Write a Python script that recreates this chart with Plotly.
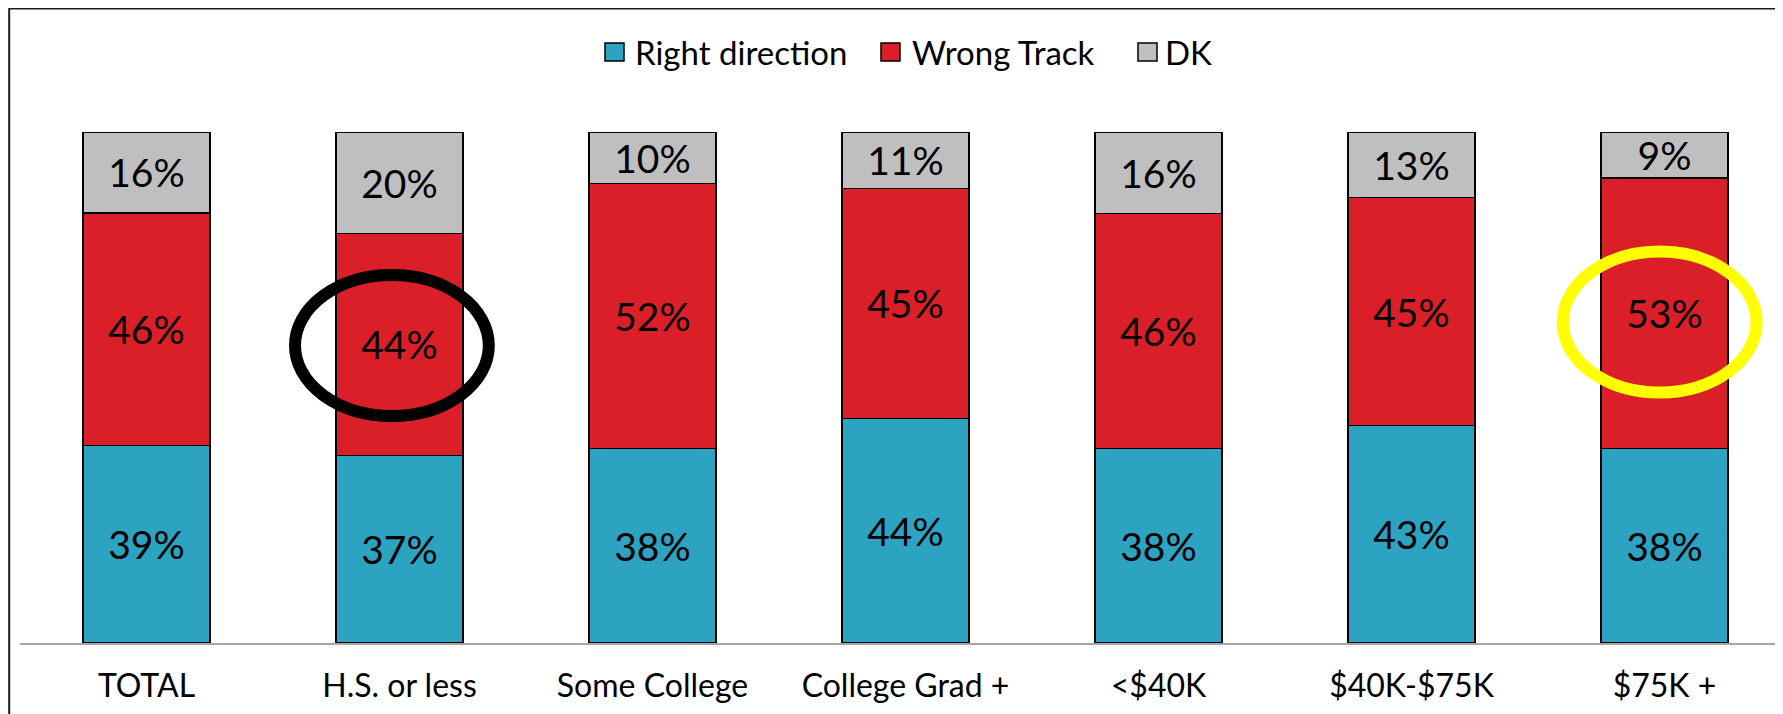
import plotly.graph_objects as go

categories = ["TOTAL", "H.S. or less", "Some College", "College Grad +",
              "<$40K", "$40K-$75K", "$75K +"]
right_direction = [39, 37, 38, 44, 38, 43, 38]
wrong_track = [46, 44, 52, 45, 46, 45, 53]
dk = [16, 20, 10, 11, 16, 13, 9]
series_names = ["Right direction", "Wrong Track", "DK"]

W, H = 1783, 714
OFF = 8  # page body margin
L, R, T, B = 12, 8, 124, 79
PW, PH = W - L - R, H - T - B


def px_x(p):
    return (p - OFF - L) / PW


def px_y(p):
    return (H - B - (p - OFF)) / PH


colors = {"Right direction": "#2CA3C0", "Wrong Track": "#DA1F28", "DK": "#BFBFBF"}
font = "Lato, 'Open Sans', sans-serif"

fig = go.Figure()
for name, vals in zip(series_names, [right_direction, wrong_track, dk]):
    fig.add_trace(go.Bar(
        x=list(range(len(categories))), y=vals, name=name,
        marker=dict(color=colors[name], line=dict(color="#000000", width=1.2)),
        text=[f"{v}%" for v in vals],
        textposition="inside", insidetextanchor="middle", textangle=0,
        textfont=dict(size=39, color="#000000", family=font),
        showlegend=False,
    ))

# highlight ellipses around the Wrong Track values
for idx, col, dx, dy in [(1, "#000000", -0.03, -0.2), (6, "#FFFF00", -0.019, -1.7)]:
    tot = right_direction[idx] + wrong_track[idx] + dk[idx]
    mid = (right_direction[idx] + wrong_track[idx] / 2) / tot * 100 + dy
    fig.add_shape(type="circle", xref="x", yref="y",
                  x0=idx + dx - 0.383, x1=idx + dx + 0.383,
                  y0=mid - 13.8, y1=mid + 13.8,
                  line=dict(color=col, width=12))

# legend drawn by hand to match the original spacing
legend_sym_x = [605, 881, 1138]
legend_txt_x = [633, 910, 1163]
for name, sx, tx in zip(series_names, legend_sym_x, legend_txt_x):
    fig.add_shape(type="rect", xref="paper", yref="paper",
                  x0=px_x(sx), x1=px_x(sx + 19), y0=px_y(61), y1=px_y(43),
                  fillcolor=colors[name], line=dict(color="#000000", width=1.5))
    fig.add_annotation(text=name, xref="paper", yref="paper",
                       x=px_x(tx), y=px_y(52), xanchor="left", yanchor="middle",
                       showarrow=False, font=dict(size=33, family=font, color="#000000"))

# outer frame
fig.add_shape(type="rect", xref="paper", yref="paper",
              x0=px_x(9.2), x1=px_x(1777), y0=px_y(740), y1=px_y(8.5),
              line=dict(color="#1a1a1a", width=2), layer="below")

fig.update_layout(
    width=W, height=H, barmode="stack", barnorm="percent", bargap=0.498,
    margin=dict(l=L, r=R, t=T, b=B, pad=0, autoexpand=False),
    paper_bgcolor="white", plot_bgcolor="white",
    font=dict(family=font, color="#000000"),
    uniformtext=dict(minsize=39, mode="show"),
    showlegend=False,
)
fig.update_xaxes(range=[-0.5, -0.5 + PW / 253.0],
                 tickvals=list(range(len(categories))),
                 ticktext=categories, showgrid=False, zeroline=False,
                 showline=True, linecolor="#A6A6A6", linewidth=2,
                 ticks="", tickfont=dict(size=32, family=font),
                 ticklabelstandoff=14, automargin=False)
fig.update_yaxes(range=[0, 100], visible=False, automargin=False)

fig.write_html("out.html")
